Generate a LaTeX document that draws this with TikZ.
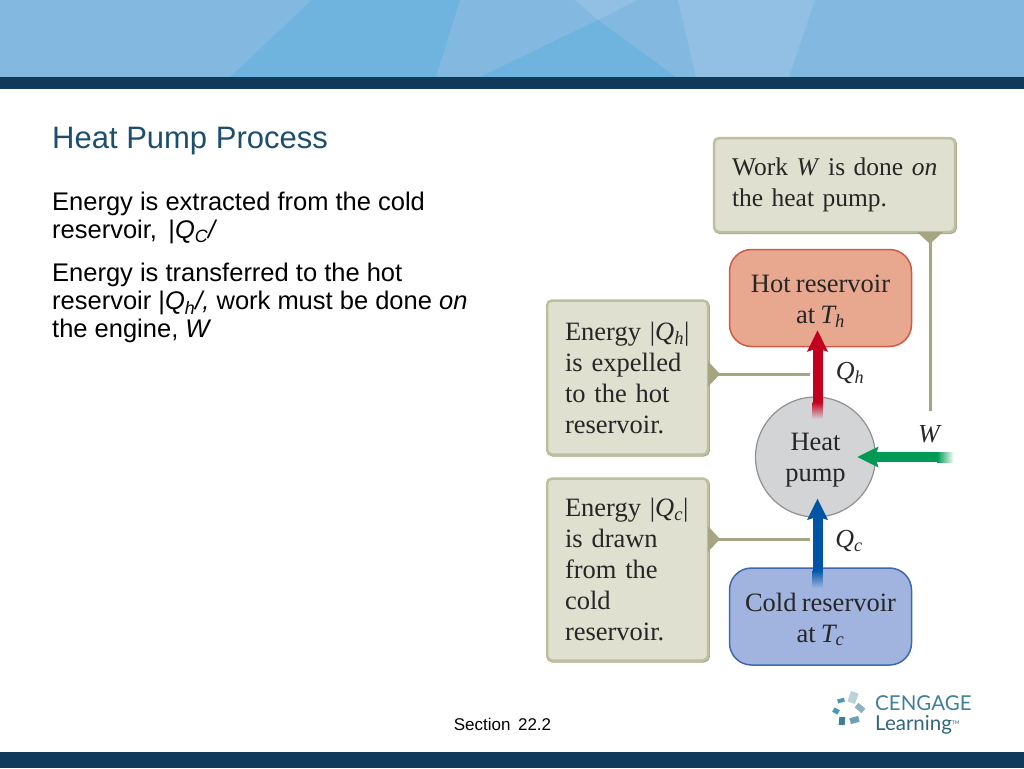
\documentclass[tikz,border=0pt]{standalone}
\usepackage{fontspec}
\setmainfont{Liberation Sans}
\newfontfamily\figfont[WordSpace=0.8]{Liberation Serif}
\newfontfamily\logofont{Lato}
\usetikzlibrary{arrows.meta,positioning}
\newcommand{\topstrut}{\rule{0pt}{24pt}}
\definecolor{barblue}{HTML}{0F3A5A}
\definecolor{headblue}{HTML}{83B9E1}
\definecolor{headdark}{HTML}{6FB3DF}
\definecolor{headlight}{HTML}{92C0E5}
\definecolor{titleblue}{HTML}{1C4E6E}
\definecolor{boxfill}{HTML}{DFE0CF}
\definecolor{boxedge}{HTML}{BDBF9F}
\definecolor{leadolive}{HTML}{A5A581}
\definecolor{hotfill}{HTML}{E8A78F}
\definecolor{hotedge}{HTML}{CF5A45}
\definecolor{coldfill}{HTML}{A0B4DF}
\definecolor{coldedge}{HTML}{3F68AE}
\definecolor{pumpfill}{HTML}{D2D4D6}
\definecolor{pumpedge}{HTML}{8E9091}
\definecolor{hotflow}{HTML}{C4001F}
\definecolor{coldflow}{HTML}{0054A6}
\definecolor{workflow}{HTML}{009A56}
\definecolor{logoteal}{HTML}{3F7F98}
\tikzset{
  notebox/.style={draw=boxedge,fill=boxfill,line width=2.5pt,rounded corners=5pt,outer sep=0pt,
    preaction={draw=leadolive,transform canvas={xshift=0.7pt,yshift=-0.8pt}},
    inner xsep=18pt,inner ysep=0pt,align=left,text=black!85,
    font=\figfont\fontsize{26.5}{31}\selectfont},
  reservoir/.style={line width=1.5pt,rounded corners=22pt,minimum width=182pt,minimum height=97pt,
    inner sep=0pt,align=center,text=black!85,font=\figfont\fontsize{26.5}{31}\selectfont},
  figlabel/.style={inner sep=0pt,text=black!85,font=\figfont\itshape\fontsize{26}{26}\selectfont},
  bodytext/.style={anchor=north west,inner sep=0pt,align=left,font=\fontsize{25.5}{28}\selectfont},
  leader/.style={draw=leadolive,line width=3pt,{Triangle[reversed,length=12pt,width=25pt]}-},
  flow/.style={line width=10pt,-{Stealth[length=21pt,width=20pt,inset=3pt]}}
}
\begin{document}
\begin{tikzpicture}[x=1pt,y=-1pt]
  \useasboundingbox (0,0) rectangle (1024,768);
  % header band
  \fill[headblue] (0,0) rectangle (1024,77);
  \fill[headdark] (312,0)--(460,0)--(436,77)--(230,77)--cycle;
  \fill[headdark] (598,20)--(676,77)--(480,77)--cycle;
  \fill[headlight] (575,0)--(637,0)--(598,20)--cycle;
  \fill[headlight] (678,0)--(815,0)--(789,77)--(696,77)--cycle;
  \fill[barblue] (0,77) rectangle (1024,89);
  \fill[barblue] (0,752) rectangle (1024,768);

  % left column
  \node[anchor=base west,inner sep=0pt,text=titleblue,font=\fontsize{31}{31}\selectfont] (title) at (52,148) {Heat Pump Process};
  \node[bodytext] (para1) at (52,192) {Energy is extracted from the cold\\reservoir, \,|\textit{Q\textsubscript{C}/}};
  \node[bodytext] (para2) at (52,263) {Energy is transferred to the hot\\reservoir |\textit{Q\textsubscript{h}/,} work must be done \textit{on}\\the engine, \textit{W}};
  \node[anchor=base,inner sep=0pt,font=\fontsize{17}{17}\selectfont] (section) at (502.5,730) {Section \,22.2};

  % figure boxes
  \node[notebox,minimum width=240pt,minimum height=94pt,text width=205pt,font=\figfont\fontsize{25.5}{31}\selectfont] (workbox) at (834.5,185) {\mbox{Work \textit{W} is done \textit{on}}\\the heat pump.};
  \node[notebox,minimum width=160pt,minimum height=154pt,text width=125pt] (qhbox) at (627.5,377.5) {Energy |\textit{Q\textsubscript{h}}|\\is expelled\\to the hot\\reservoir.};
  \node[notebox,minimum width=160pt,minimum height=182pt,text width=125pt] (qcbox) at (627.5,569.5) {Energy |\textit{Q\textsubscript{c}}|\\is drawn\\from the\\cold\\reservoir.};
  \node[reservoir,draw=hotedge,fill=hotfill] (hot) at (820.5,298) {\topstrut Hot reservoir\\at \textit{T\textsubscript{h}}};
  \node[reservoir,draw=coldedge,fill=coldfill] (cold) at (820.5,616.5) {\topstrut Cold reservoir\\at \textit{T\textsubscript{c}}};
  \node[circle,draw=pumpedge,fill=pumpfill,line width=1.2pt,minimum size=120pt,inner sep=0pt,align=center,text=black!85,
    font=\figfont\fontsize{26.5}{31}\selectfont] (pump) at (815.5,457) {\topstrut Heat\\pump};

  % labels
  \node[figlabel] (qhlabel) at (850,373) {Q\textsubscript{h}};
  \node[figlabel] (qclabel) at (849,541) {Q\textsubscript{c}};
  \node[figlabel] (wlabel) at (929,434) {W};

  % leaders
  \draw[leader] ([xshift=95.5pt]workbox.south) -- ([xshift=114.5pt,yshift=-15pt]pump.north);
  \draw[leader] ([yshift=3.5pt]qhbox.east) -- ([xshift=-6pt,yshift=3.5pt]qhbox.east -| pump.north);
  \draw[leader] ([yshift=30.5pt]qcbox.east) -- ([xshift=-6pt,yshift=30.5pt]qcbox.east -| pump.north);

  % flows
  \draw[flow,hotflow] ([xshift=2pt,yshift=-10pt]pump.north) -- ([xshift=-3pt,yshift=17pt]hot.south);
  \shade[top color=hotflow,bottom color=pumpfill] (812.5,402) rectangle (822.5,419);
  \draw[flow,coldflow] ([xshift=-3pt,yshift=-15pt]cold.north) -- ([xshift=2pt,yshift=19pt]pump.south);
  \shade[top color=coldflow,bottom color=coldfill] (812.5,570) rectangle (822.5,588);
  \draw[flow,workflow] ([xshift=78pt]pump.east) -- ([xshift=-19pt]pump.east);
  \shade[left color=workflow,right color=white] (937,452) rectangle (954,462);

  % logo
  \foreach \px/\py/\ang/\sw/\sh/\tint in {853/697.5/-20/8/11/logoteal!35,860/708/-40/9/6/logoteal!60,854.5/720/15/9/6/logoteal!75,842/721/-5/6/8/logoteal,836/711/-30/6/5/logoteal!120!black,841/700.5/15/7/4/logoteal!120!black}
    \fill[\tint,rotate around={\ang:(\px,\py)}] (\px-\sw/2,\py-\sh/2) rectangle (\px+\sw/2,\py+\sh/2);
  \node[anchor=base west,inner sep=0pt,text=logoteal,font=\logofont\fontsize{20.5}{20}\selectfont] (cengage) at (875,710) {CENGAGE};
  \node[anchor=base west,inner sep=0pt,text=logoteal!80!black,font=\logofont\fontsize{20.5}{20}\selectfont] (learning) at (875,730) {Learning\raisebox{6pt}{\fontsize{5}{5}\selectfont TM}};
\end{tikzpicture}
\end{document}
